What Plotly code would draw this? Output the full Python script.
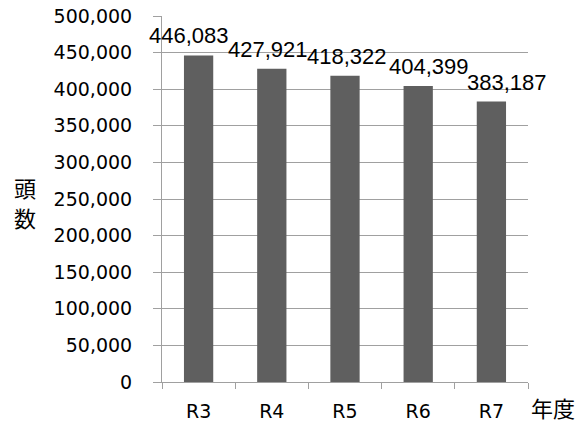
import plotly.graph_objects as go

categories = ["R3", "R4", "R5", "R6", "R7"]
values = [446083, 427921, 418322, 404399, 383187]
label_shift = [-10, -4, 2, 11, 16]
y_tickvals = list(range(0, 500001, 50000))
y_title_chars = ["頭", "数"]
x_title = "年度"

fig = go.Figure()
fig.add_trace(go.Bar(
    x=categories, y=values,
    marker=dict(color="#5f5f5f", line=dict(width=0)),
    hoverinfo="skip",
))

for c, v, s in zip(categories, values, label_shift):
    fig.add_annotation(
        x=c, y=v, text=f"{v:,}", showarrow=False,
        xshift=s, yshift=5, yanchor="bottom",
        font=dict(family="Liberation Sans", size=22, color="#000000"),
    )

for i, ch in enumerate(y_title_chars):
    fig.add_annotation(
        xref="paper", yref="paper", x=0, y=0, xshift=-137, yshift=195 - 30 * i,
        text=ch, showarrow=False, xanchor="center", yanchor="middle",
        font=dict(family="Noto Sans CJK JP", size=22, color="#000000"),
    )
fig.add_annotation(
    xref="paper", yref="paper", x=1, y=0, xshift=25, yshift=-25,
    text=x_title, showarrow=False, xanchor="center", yanchor="middle",
    font=dict(family="Noto Sans CJK JP", size=22, color="#000000"),
)

fig.update_layout(
    width=588, height=423,
    margin=dict(l=162, r=60, t=16, b=41, autoexpand=False),
    paper_bgcolor="white", plot_bgcolor="white",
    bargap=0.6, showlegend=False,
    font=dict(family="DejaVu Sans", size=19, color="#000000"),
)
fig.update_xaxes(
    type="category", range=[-0.5, len(categories) - 0.5], autorange=False,
    showline=True, linecolor="#a0a0a0", linewidth=1,
    ticks="outside", tickson="boundaries", ticklen=6, tickcolor="#a0a0a0",
    ticklabelstandoff=12, showgrid=False, automargin=False,
)
fig.update_yaxes(
    range=[0, 500000], autorange=False, tickvals=y_tickvals, tickformat=",d",
    showline=True, linecolor="#a0a0a0", linewidth=1,
    showgrid=True, gridcolor="#a0a0a0", gridwidth=1,
    ticks="outside", ticklen=8, tickcolor="#a0a0a0",
    ticklabelstandoff=17, zeroline=False, automargin=False,
)

fig.write_html(
    "out.html",
    config={"displayModeBar": False},
    post_script="document.body.style.margin='0';document.body.style.padding='0';",
)
